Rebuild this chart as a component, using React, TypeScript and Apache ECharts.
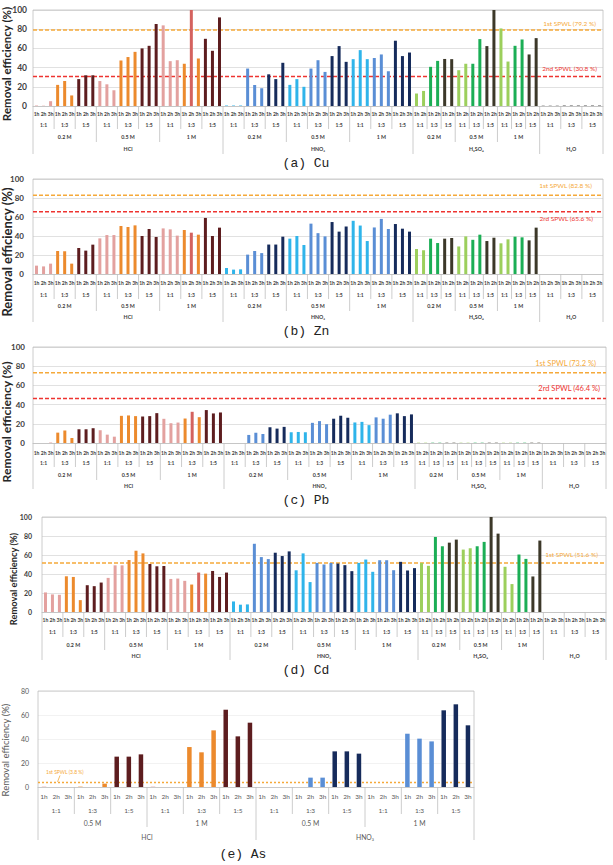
import React, { useEffect, useRef } from "react";
import * as echarts from "echarts";

// ---- category levels ----
const ACIDS = ["HCl", "HNO₃", "H₂SO₄", "H₂O"];
const CONCS = ["0.2 M", "0.5 M", "1 M"];
const RATIOS = ["1:1", "1:3", "1:5"];
const TIMES = ["1h", "2h", "3h"];
const TIMES_SHORT = ["1h", "2h"]; // H2SO4 runs were sampled at 1h and 2h only
const AS_ACIDS = ["HCl", "HNO₃"];
const AS_CONCS = ["0.5 M", "1 M"];

// ---- removal efficiency (%) : conc > ratio > time order ----
const CU_HCL = [0.5, 0.3, 5, 22, 26, 11, 28, 32, 32, 26, 22.6, 16.4, 47.4, 51, 56.4, 60, 62.7, 85.4, 84, 46.7, 47.7, 44, 100, 49.5, 70, 57.5, 92.3];
const CU_HNO3 = [0.5, 0.5, 0.5, 39, 22, 18.5, 33, 28, 45, 22, 28, 20, 39, 47.7, 35.5, 52, 62.4, 46, 48.8, 58.2, 48.8, 50, 53.7, 36.2, 68, 52, 55.7];
const CU_H2SO4 = [13, 15.7, 40.8, 47, 49, 48.8, 37.3, 44, 44, 69.7, 62.4, 100, 80.8, 46.3, 62.7, 69.3, 53.7, 70.7];
const CU_H2O = [0.5, 0.5, 0.5, 0.8, 0.8, 0.8, 0.8, 0.8, 0.8];
const CU_SPWL = [79.2, 30.8];
const CU_SPWL_NAMES = ["1st SPWL", "2nd SPWL"];

const ZN_HCL = [8.8, 8, 10.9, 24.2, 23.9, 10.9, 27.4, 24.6, 30.9, 37.5, 41, 41, 50.5, 49.5, 51.2, 40, 47.4, 39, 48, 47, 40.4, 46.3, 43.5, 41.4, 59, 40, 48.8];
const ZN_HNO3 = [6.3, 4.6, 4.9, 20.4, 24.2, 22, 31, 31, 39.3, 37.2, 40, 30.5, 53, 43, 39.6, 54.7, 44.6, 50, 56, 51, 34.7, 49, 58, 47.4, 52.6, 47.7, 44.6];
const ZN_H2SO4 = [26.3, 25, 37.2, 32.6, 37.2, 37.9, 29, 39.6, 36, 41.4, 34.7, 38.2, 32.3, 36.5, 39.3, 38.6, 35.4, 48.8];
const ZN_H2O = [0, 0, 0, 0, 0, 0, 0, 0, 0];
const ZN_SPWL = [82.8, 65.6];
const ZN_SPWL_NAMES = ["1st SPWL", "2rd SPWL"];

const PB_HCL = [0, 0, 0.5, 10.8, 12.9, 5.2, 14.3, 14.3, 15.4, 13.3, 8.7, 6.6, 28.3, 28.7, 28, 27.6, 28, 31.1, 25.2, 20.6, 21.3, 25.5, 32.5, 26.9, 34.3, 30.8, 31.8];
const PB_HNO3 = [0, 0, 0, 8.4, 10.8, 9.4, 16.4, 15, 16.8, 11.2, 11.5, 11.2, 21, 22.8, 19.6, 25.3, 28.4, 26.3, 21.4, 22, 18.6, 26.7, 25.3, 29.5, 30.9, 28, 29.8];
const PB_H2SO4 = [0.3, 0.3, 0.3, 0.3, 0.3, 0.3, 0.3, 0.3, 0.3, 0.3, 0.3, 0.3, 0.3, 0.3, 0.3, 0.3, 0.3, 0.3];
const PB_H2O = [0, 0, 0, 0, 0, 0, 0, 0, 0];
const PB_SPWL = [73.2, 46.4];
const PB_SPWL_NAMES = ["1st SPWL", "2rd SPWL"];

const CD_HCL = [20.6, 18.5, 18.1, 37.6, 36.9, 12.5, 28.2, 27.2, 31, 35.9, 49.1, 49.1, 54.7, 64.5, 61.7, 50.5, 48.1, 48.4, 34.8, 35.2, 32.8, 28.9, 41.5, 40.4, 43.2, 36.9, 41.5];
const CD_HNO3 = [11.1, 7.7, 8, 71.8, 57.8, 55.7, 62.4, 58.9, 63.8, 43.9, 61.7, 31.5, 51.7, 50, 51.7, 51, 49.3, 43, 51.7, 55.2, 42.3, 54.5, 54.5, 44, 52.8, 43.7, 46.2];
const CD_H2SO4 = [51.7, 48.6, 79, 69.2, 73, 76.2, 65.7, 67.1, 69.2, 73.8, 100, 82.5, 47.6, 29.4, 60.5, 55.9, 37.4, 75.2];
const CD_H2O = [0, 0, 0, 0, 0, 0, 0, 0, 0];
const CD_SPWL = [51.6];
const CD_SPWL_NAMES = ["1st SPWL"];

const AS_HCL = [0.3, 0, 0, 0.3, 0, 2.8, 25.3, 25.3, 27.2, 0.3, 0, 0, 33.3, 28.9, 47.2, 64.4, 42.2, 53.6];
const AS_HNO3 = [0, 0, 0, 0, 7.8, 7.8, 29.7, 29.7, 27.8, 0, 0, 0, 44.4, 40.3, 38, 63.9, 68.9, 51.4];
const AS_SPWL = [3.8];
const AS_SPWL_NAMES = ["1st SPWL"];

type Cat = { acid: string; conc: string; ratio: string; time: string };

function leachingCats(): Cat[] {
  const out: Cat[] = [];
  ACIDS.forEach((acid) => {
    const concs = acid === "H₂O" ? [""] : CONCS;
    const times = acid === "H₂SO₄" ? TIMES_SHORT : TIMES;
    concs.forEach((conc) =>
      RATIOS.forEach((ratio) => times.forEach((time) => out.push({ acid, conc, ratio, time })))
    );
  });
  return out;
}

function arsenicCats(): Cat[] {
  const out: Cat[] = [];
  AS_ACIDS.forEach((acid) =>
    AS_CONCS.forEach((conc) =>
      RATIOS.forEach((ratio) => TIMES.forEach((time) => out.push({ acid, conc, ratio, time })))
    )
  );
  return out;
}

const PALETTE: Record<string, string[]> = {
  "HCl": ["#E3A19F", "#EC8A2D", "#5D1D1F"],
  "HNO₃": ["#2FB4EA", "#5A8ED5", "#162B5B"],
  "H₂SO₄": ["#9CCF5C", "#1BAE55", "#3C3829"],
  "H₂O": ["#8C8C8C", "#8C8C8C", "#8C8C8C"],
};
const HCL_1M_13_2H = "#D4625E";
const ORANGE = "#F5A93A";
const RED = "#EE3430";
const FONT = "Lato, 'Liberation Sans', sans-serif";

function barColor(c: Cat, special: boolean) {
  if (special && c.acid === "HCl" && c.conc === "1 M" && c.ratio === "1:3" && c.time === "2h") return HCL_1M_13_2H;
  return PALETTE[c.acid][RATIOS.indexOf(c.ratio)];
}

const LEACH = leachingCats();

type SpwlLabel = { dx: number; dy: number; size: number; left?: boolean };
type Panel = {
  cats: Cat[];
  values: number[];
  spwl: number[];
  spwlNames: string[];
  caption: string;
  special: boolean;
  left: number; right: number; top: number; height: number; max: number;
  barWidth: number;
  tick: { size: number; margin: number; weight: string; color: string };
  label: { size: number; weight: string; color: string };
  gridColor: string;
  rows: { time: number; ratio: number; conc: number; acid: number; ratioEnd: number; concEnd: number; bottom: number };
  title: { x: number; y: number; size: number; weight: string; color: string };
  cap: { x: number; y: number };
  spwlLabels: SpwlLabel[];
  dash: number[];
  leader?: boolean;
};

const BOLD_TICK = { size: 8, margin: 6, weight: "bold", color: "#404040" };
const BOLD_LABEL = { size: 5, weight: "bold", color: "#404040" };

const PANELS: Panel[] = [
  {
    cats: LEACH, values: [...CU_HCL, ...CU_HNO3, ...CU_H2SO4, ...CU_H2O], spwl: CU_SPWL, spwlNames: CU_SPWL_NAMES,
    caption: "(a) Cu", special: true,
    left: 33, right: 10, top: 10, height: 96, max: 100, barWidth: 3,
    tick: { ...BOLD_TICK, size: 8.5, margin: 6 }, label: BOLD_LABEL, gridColor: "#D9D9D9",
    rows: { time: 7.5, ratio: 18.5, conc: 31, acid: 43, ratioEnd: 23, concEnd: 36, bottom: 48 },
    title: { x: 6, y: 64, size: 11.5, weight: "bold", color: "#262626" }, cap: { x: 306, y: 163 },
    spwlLabels: [{ dx: 7, dy: -6.5, size: 6.5 }, { dx: 6, dy: -8, size: 6.5 }], dash: [4, 2],
  },
  {
    cats: LEACH, values: [...ZN_HCL, ...ZN_HNO3, ...ZN_H2SO4, ...ZN_H2O], spwl: ZN_SPWL, spwlNames: ZN_SPWL_NAMES,
    caption: "(b) Zn", special: true,
    left: 33, right: 10, top: 179, height: 95, max: 100, barWidth: 3,
    tick: { ...BOLD_TICK, size: 8, margin: 9 }, label: BOLD_LABEL, gridColor: "#D9D9D9",
    rows: { time: 8.5, ratio: 21, conc: 32, acid: 43, ratioEnd: 25, concEnd: 37, bottom: 48 },
    title: { x: 7, y: 252, size: 13, weight: "bold", color: "#262626" }, cap: { x: 306, y: 331 },
    spwlLabels: [{ dx: 11, dy: -10, size: 6.5 }, { dx: 10, dy: 6.5, size: 6.5 }], dash: [4, 2],
  },
  {
    cats: LEACH, values: [...PB_HCL, ...PB_HNO3, ...PB_H2SO4, ...PB_H2O], spwl: PB_SPWL, spwlNames: PB_SPWL_NAMES,
    caption: "(c) Pb", special: true,
    left: 33, right: 7, top: 347, height: 96, max: 100, barWidth: 3,
    tick: { ...BOLD_TICK, size: 8, margin: 8 }, label: BOLD_LABEL, gridColor: "#D9D9D9",
    rows: { time: 9.5, ratio: 20, conc: 32, acid: 43, ratioEnd: 24, concEnd: 37, bottom: 46 },
    title: { x: 6, y: 422, size: 12.2, weight: "bold", color: "#262626" }, cap: { x: 306, y: 500 },
    spwlLabels: [{ dx: 10, dy: -9.5, size: 7.5 }, { dx: 6, dy: -9.5, size: 7.5 }], dash: [4, 2],
  },
  {
    cats: LEACH, values: [...CD_HCL, ...CD_HNO3, ...CD_H2SO4, ...CD_H2O], spwl: CD_SPWL, spwlNames: CD_SPWL_NAMES,
    caption: "(d) Cd", special: true,
    left: 42, right: 7, top: 517, height: 95, max: 100, barWidth: 3,
    tick: { ...BOLD_TICK, size: 7, margin: 10 }, label: BOLD_LABEL, gridColor: "#D9D9D9",
    rows: { time: 8, ratio: 20, conc: 33, acid: 43.5, ratioEnd: 25, concEnd: 38, bottom: 48 },
    title: { x: 13, y: 579, size: 9.3, weight: "bold", color: "#262626" }, cap: { x: 306, y: 670 },
    spwlLabels: [{ dx: 8, dy: -8.5, size: 6.5 }], dash: [4, 2],
  },
  {
    cats: arsenicCats(), values: [...AS_HCL, ...AS_HNO3], spwl: AS_SPWL, spwlNames: AS_SPWL_NAMES,
    caption: "(e) As", special: false,
    left: 38, right: 139, top: 691, height: 96, max: 80, barWidth: 4.5,
    tick: { size: 7, margin: 9, weight: "normal", color: "#595959" },
    label: { size: 6.5, weight: "normal", color: "#595959" }, gridColor: "#EFEFEF",
    rows: { time: 9, ratio: 23, conc: 36, acid: 50, ratioEnd: 27, concEnd: 40, bottom: 53 },
    title: { x: 5, y: 750, size: 9.5, weight: "normal", color: "#595959" }, cap: { x: 243, y: 854 },
    spwlLabels: [{ dx: 8, dy: -10, size: 5, left: true }], dash: [2, 2],
    leader: true,
  },
];

function decorate(chart: echarts.ECharts, k: number, p: Panel): any[] {
  const els: any[] = [];
  const px = (i: number) => chart.convertToPixel({ xAxisIndex: k }, i) as number;
  const py = (v: number) => chart.convertToPixel({ yAxisIndex: k }, v) as number;
  const n = p.cats.length;
  const step = px(1) - px(0);
  const edge = (i: number) => px(0) + (i - 0.5) * step;
  const base = py(0);
  const top = py(p.max);
  const xl = edge(0);
  const xr = edge(n);
  const R = p.rows;

  const line = (x1: number, y1: number, x2: number, y2: number, stroke = "#BFBFBF", extra: any = {}) => ({
    type: "line", silent: true, shape: { x1, y1, x2, y2 }, style: { stroke, lineWidth: 0.8, ...extra },
  });
  const text = (t: string, x: number, y: number, size: number, extra: any = {}) => ({
    type: "text", silent: true, x, y,
    style: {
      text: t, fontSize: size, fontFamily: FONT, fontWeight: p.label.weight, fill: p.label.color,
      align: "center", verticalAlign: "middle", ...extra,
    },
  });

  // plot frame, running down through the category rows
  els.push(line(xl, top, xr, top), line(xl, top, xl, base + R.bottom), line(xr, top, xr, base + R.bottom));

  const key = (c: Cat, lvl: number) =>
    lvl === 0 ? c.acid : lvl === 1 ? c.acid + "|" + c.conc : c.acid + "|" + c.conc + "|" + c.ratio;

  // group separators
  for (let i = 1; i < n; i++) {
    const a = p.cats[i - 1];
    const b = p.cats[i];
    if (key(a, 2) === key(b, 2)) continue;
    const depth = a.acid !== b.acid ? R.bottom : a.conc !== b.conc ? R.concEnd : R.ratioEnd;
    els.push(line(edge(i), base, edge(i), base + depth));
  }

  // ratio / concentration / acid labels centred on their runs
  const levels: [number, number][] = [[2, R.ratio], [1, R.conc], [0, R.acid]];
  levels.forEach(([lvl, dy]) => {
    let s = 0;
    for (let i = 1; i <= n; i++) {
      if (i === n || key(p.cats[i], lvl) !== key(p.cats[s], lvl)) {
        const c = p.cats[s];
        const label = lvl === 2 ? c.ratio : lvl === 1 ? c.conc : c.acid;
        if (label) els.push(text(label, (edge(s) + edge(i)) / 2, base + dy, p.label.size + (lvl < 2 ? 0.3 : 0)));
        s = i;
      }
    }
  });

  // SPWL guide lines and captions
  p.spwl.forEach((v, j) => {
    const s = p.spwlLabels[j];
    const color = j === 0 ? ORANGE : RED;
    const y = py(v);
    els.push(line(xl, y, xr, y, color, { lineWidth: 1.5, lineDash: p.dash }));
    els.push(
      text(`${p.spwlNames[j]} (${v} %)`, s.left ? xl + s.dx : xr - s.dx, y + s.dy, s.size, {
        align: s.left ? "left" : "right", fill: color, fontWeight: "normal",
      })
    );
    if (p.leader) {
      els.push(line(xl + 22, y + s.dy + 3, xl + 19.5, y - 0.5, ORANGE));
    }
  });

  // axis title
  els.push({
    type: "text", silent: true, x: p.title.x, y: p.title.y, rotation: Math.PI / 2,
    style: {
      text: "Removal efficiency (%)", fontSize: p.title.size, fontFamily: FONT, fontWeight: p.title.weight,
      fill: p.title.color, align: "center", verticalAlign: "middle",
    },
  });

  // panel caption
  els.push({
    type: "text", silent: true, x: p.cap.x, y: p.cap.y,
    style: {
      text: p.caption, fontSize: 13, fontFamily: "'Liberation Mono', 'DejaVu Sans Mono', monospace",
      fill: "#222", align: "center", verticalAlign: "middle",
    },
  });
  return els;
}

export default function App() {
  const ref = useRef<HTMLDivElement>(null);

  useEffect(() => {
    const chart = echarts.init(ref.current!, null, { renderer: "svg" });
    const grid: any[] = [];
    const xAxis: any[] = [];
    const yAxis: any[] = [];
    const series: any[] = [];

    PANELS.forEach((p, k) => {
      grid.push({ left: p.left, right: p.right, top: p.top, height: p.height });
      xAxis.push({
        type: "category", gridIndex: k, data: p.cats.map((_, i) => String(i)),
        axisTick: { show: false },
        axisLine: { lineStyle: { color: "#BFBFBF", width: 0.8 } },
        axisLabel: {
          interval: 0, formatter: (_v: string, i: number) => p.cats[i].time,
          fontSize: p.label.size, fontWeight: p.label.weight, color: p.label.color, fontFamily: FONT,
          margin: p.rows.time - p.label.size / 2,
        },
      });
      yAxis.push({
        type: "value", gridIndex: k, min: 0, max: p.max, interval: 20,
        axisLine: { show: false }, axisTick: { show: false },
        splitLine: { lineStyle: { color: p.gridColor, width: 0.8 } },
        axisLabel: {
          fontSize: p.tick.size, fontWeight: p.tick.weight, color: p.tick.color, fontFamily: FONT, margin: p.tick.margin,
        },
      });
      series.push({
        type: "bar", xAxisIndex: k, yAxisIndex: k, barWidth: p.barWidth, silent: true,
        data: p.values.map((v, i) => ({ value: v, itemStyle: { color: barColor(p.cats[i], p.special) } })),
      });
    });

    chart.setOption({ animation: false, backgroundColor: "#fff", grid, xAxis, yAxis, series });

    const graphic: any[] = [];
    PANELS.forEach((p, k) => graphic.push(...decorate(chart, k, p)));
    chart.setOption({ graphic });

    return () => chart.dispose();
  }, []);

  return (
    <div
      ref={ref}
      style={{ position: "absolute", left: 0, top: 0, width: 613, height: 865, background: "#fff" }}
    />
  );
}
